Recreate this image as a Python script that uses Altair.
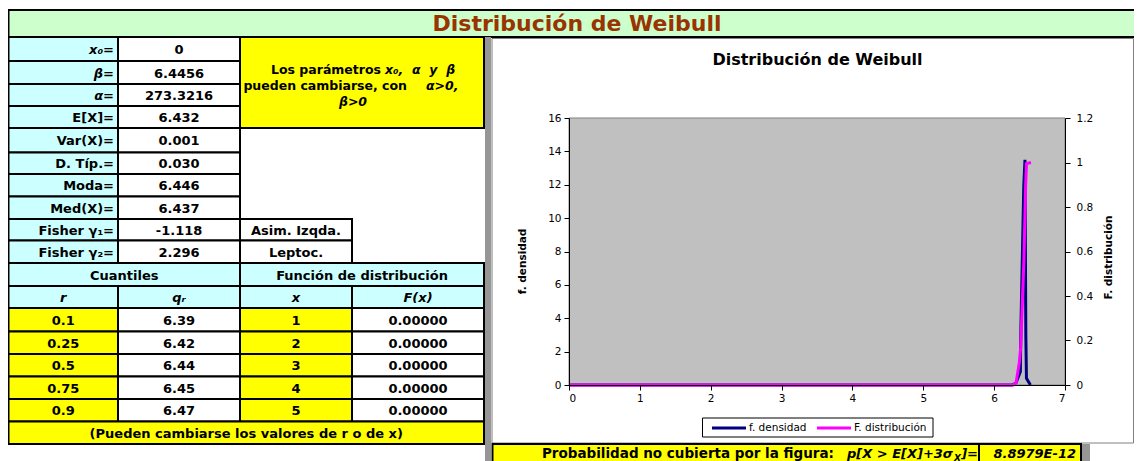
import altair as alt
import pandas as pd

# ---------------- values ----------------
param_labels = ["x₀=", "β=", "α=", "E[X]=", "Var(X)=", "D. Típ.=", "Moda=",
                "Med(X)=", "Fisher γ₁=", "Fisher γ₂="]
param_values = ["0", "6.4456", "273.3216", "6.432", "0.001", "0.030", "6.446",
                "6.437", "-1.118", "2.296"]
shape_notes = ["Asim. Izqda.", "Leptoc."]
quant_header = ["r", "qᵣ", "x", "F(x)"]
quant_r = ["0.1", "0.25", "0.5", "0.75", "0.9"]
quant_q = ["6.39", "6.42", "6.44", "6.45", "6.47"]
dist_x = ["1", "2", "3", "4", "5"]
dist_F = ["0.00000", "0.00000", "0.00000", "0.00000", "0.00000"]
prob_value = "8.8979E-12"

dens_x = [0, 1, 2, 3, 4, 5, 6, 6.25, 6.308, 6.37, 6.378, 6.418, 6.435, 6.447, 6.456, 6.512]
dens_y = [0, 0, 0, 0, 0, 0, 0, 0, 0.12, 0.8, 3.5, 11.9, 13.5, 3.0, 0.4, 0]
cdf_x = [0, 1, 2, 3, 4, 5, 6, 6.27, 6.31, 6.355, 6.375, 6.42, 6.445, 6.457, 6.52]
cdf_y = [0, 0, 0, 0, 0, 0, 0, 0, 0.01, 0.10, 0.17, 0.56, 0.9, 0.995, 1.0]

series_names = ["f. densidad", "F. distribución"]
series_colors = ["#000080", "#FF00FF"]
x_ticks = [0, 1, 2, 3, 4, 5, 6, 7]
dens_ticks = [0, 2, 4, 6, 8, 10, 12, 14, 16]
cdf_ticks = [0, 0.2, 0.4, 0.6, 0.8, 1, 1.2]

NB = "\u00a0"

# ---------------- layout ----------------
W, H = 1126, 453
COL_EDGES = [0.5, 110, 232, 344, 476]
ROW_EDGES = [29, 53, 76, 98, 120, 144.5, 166, 188.5, 211, 232.5, 255, 278, 300,
             323.5, 346, 368.5, 391, 413.5, 436]
PLOT_X = [561, 1057]
PLOT_Y = [377, 110]
CYAN, YELLOW, WHITE, GREEN = "#CCFFFF", "#FFFF00", "#FFFFFF", "#CCFFCC"
FONT = "DejaVu Sans"
TS = 13


def col_mid(c0, c1):
    px = (COL_EDGES[c0] + COL_EDGES[c1]) / 2
    for i in range(len(COL_EDGES) - 1):
        if COL_EDGES[i] <= px <= COL_EDGES[i + 1]:
            return i + (px - COL_EDGES[i]) / (COL_EDGES[i + 1] - COL_EDGES[i])
    return c0


xs = alt.Scale(domain=list(range(len(COL_EDGES))), range=COL_EDGES, nice=False, zero=False)
ys = alt.Scale(domain=list(range(len(ROW_EDGES))), range=ROW_EDGES, nice=False, zero=False)

# table cells
cells = []
for r in range(10):
    cells += [(0, 1, r, r + 1, CYAN), (1, 2, r, r + 1, WHITE)]
cells.append((2, 4, 0, 4, YELLOW))
cells += [(2, 3, 8, 9, WHITE), (2, 3, 9, 10, WHITE)]
cells += [(0, 2, 10, 11, CYAN), (2, 4, 10, 11, CYAN)]
for c in range(4):
    cells.append((c, c + 1, 11, 12, CYAN))
for r in range(12, 17):
    cells += [(0, 1, r, r + 1, YELLOW), (1, 2, r, r + 1, WHITE),
              (2, 3, r, r + 1, YELLOW), (3, 4, r, r + 1, WHITE)]
cells.append((0, 4, 17, 18, YELLOW))
cells_df = pd.DataFrame(cells, columns=["c0", "c1", "r0", "r1", "fill"])

rects = alt.Chart(cells_df).mark_rect(stroke="black", strokeWidth=2).encode(
    x=alt.X("c0:Q", scale=xs, axis=None), x2="c1:Q",
    y=alt.Y("r0:Q", scale=ys, axis=None), y2="r1:Q",
    fill=alt.Fill("fill:N", scale=None))

lab_norm, lab_ital, cen_norm, cen_ital = [], [], [], []
for i, (lab, val) in enumerate(zip(param_labels, param_values)):
    (lab_ital if i < 3 else lab_norm).append((1, i + 0.5, lab))
    cen_norm.append((1.5, i + 0.5, val))
for i, note in enumerate(shape_notes):
    cen_norm.append((2.5, 8.5 + i, note))
cen_norm.append((col_mid(0, 2), 10.5, "Cuantiles"))
cen_norm.append((col_mid(2, 4), 10.5, "Función de distribución"))
for c, h in enumerate(quant_header):
    cen_ital.append((c + 0.5, 11.5, h))
for i in range(5):
    cen_norm += [(0.5, 12.5 + i, quant_r[i]), (1.5, 12.5 + i, quant_q[i]),
                 (2.5, 12.5 + i, dist_x[i]), (3.5, 12.5 + i, dist_F[i])]
cen_norm.append((col_mid(0, 4), 17.5, "(Pueden cambiarse los valores de r o de x)"))


def tbl_text(rows, align, italic, dx=0):
    df = pd.DataFrame(rows, columns=["x", "y", "text"])
    return alt.Chart(df).mark_text(
        font=FONT, fontSize=TS, fontWeight="bold",
        fontStyle="italic" if italic else "normal",
        align=align, baseline="middle", dx=dx, dy=1, color="black").encode(
        x=alt.X("x:Q", scale=xs, axis=None),
        y=alt.Y("y:Q", scale=ys, axis=None), text="text:N")


table = alt.layer(rects,
                  tbl_text(lab_norm, "right", False, -4),
                  tbl_text(lab_ital, "right", True, -4),
                  tbl_text(cen_norm, "center", False),
                  tbl_text(cen_ital, "center", True))


# ---------------- decorations ----------------
def box(x, x2, y, y2, fill, stroke=None, sw=0):
    kw = dict(fill=fill)
    if stroke:
        kw.update(stroke=stroke, strokeWidth=sw)
    return alt.Chart(pd.DataFrame({"k": [0]})).mark_rect(**kw).encode(
        x=alt.value(x), x2=alt.value(x2), y=alt.value(y), y2=alt.value(y2))


def label(text, x, y, size, bold=True, italic=False, align="center", color="black", font=FONT):
    return alt.Chart(pd.DataFrame({"t": [text]})).mark_text(
        font=font, fontSize=size, fontWeight="bold" if bold else "normal",
        fontStyle="italic" if italic else "normal", align=align,
        baseline="middle", color=color).encode(
        x=alt.value(x), y=alt.value(y), text="t:N")


title_bar = box(0.5, W + 5, 2, 29, GREEN, "black", 2)
stripe = box(477, 483, 29, H + 2, "#969696")
frame = box(484, 1125.5, 30.5, 435, "white", "#808080", 1)
prob_cell = box(484.5, 971, 436, H + 6, YELLOW, "black", 2)
prob_val_cell = box(971, 1073, 436, H + 6, YELLOW, "black", 2)
stripe2 = box(1074, 1082, 436, H + 2, "#969696")

texts = [
    label("Distribución de Weibull", 569, 16, 22, color="#993300"),
    label("Distribución de Weibull", 809.5, 52, 16),
    label("Los parámetros", 373, 62, 12.5, align="right"),
    label(f"x₀,{NB}{NB}α{NB}{NB}y{NB}{NB}β", 377, 62, 12.5, italic=True, align="left"),
    label("pueden cambiarse, con", 399, 78, 12.5, align="right"),
    label("α>0,", 418, 78, 12.5, italic=True, align="left"),
    label("β>0", 345, 94, 12.5, italic=True),
    label("Probabilidad no cubierta por la figura:", 826, 446, 13.5, align="right"),
    label("p[X > E[X]+3σ", 945, 446, 13, italic=True, align="right"),
    label("X", 946, 449.5, 9, italic=True, align="left"),
    label("]=", 970, 446, 13, italic=True, align="right"),
    label(prob_value, 1068, 446, 13, italic=True, align="right"),
]

# ---------------- chart ----------------
px_x = alt.Scale(domain=[x_ticks[0], x_ticks[-1]], range=PLOT_X, nice=False, zero=False)
px_yd = alt.Scale(domain=[dens_ticks[0], dens_ticks[-1]], range=PLOT_Y, nice=False, zero=False)
px_yF = alt.Scale(domain=[cdf_ticks[0], cdf_ticks[-1]], range=PLOT_Y, nice=False, zero=False)

axis_common = dict(grid=False, domainColor="black", tickColor="black", labelColor="black",
                   labelFont=FONT, labelFontSize=10.5, titleFont=FONT, titleFontSize=10.5,
                   titleFontWeight="bold", titleColor="black", tickSize=5, domainWidth=1,
                   zindex=1)
x_axis = alt.Axis(values=x_ticks, orient="bottom", offset=-(H - PLOT_Y[0]), title=None,
                  labelPadding=3, format="~g", **axis_common)
yd_axis = alt.Axis(values=dens_ticks, orient="left", offset=-PLOT_X[0], title="f. densidad",
                   labelPadding=3, titleX=-47, titleY=253, titleAngle=270, format="~g",
                   titleBaseline="middle", **axis_common)
yF_axis = alt.Axis(values=cdf_ticks, orient="right", offset=-(W - PLOT_X[1]),
                   title="F. distribución", labelPadding=6, titleX=43, titleY=249,
                   titleAngle=270, titleBaseline="middle", format="~g", **axis_common)

color_scale = alt.Scale(domain=series_names, range=series_colors)

bg_df = pd.DataFrame({"x0": [x_ticks[0]], "x1": [x_ticks[-1]],
                      "y0": [dens_ticks[0]], "y1": [dens_ticks[-1]]})
plot_bg = alt.Chart(bg_df).mark_rect(fill="#C0C0C0", stroke="#808080", strokeWidth=1).encode(
    x=alt.X("x0:Q", scale=px_x, axis=x_axis), x2="x1:Q",
    y=alt.Y("y0:Q", scale=px_yd, axis=yd_axis), y2="y1:Q")

dens_df = pd.DataFrame({"x": dens_x, "y": dens_y, "serie": series_names[0]})
cdf_df = pd.DataFrame({"x": cdf_x, "y": cdf_y, "serie": series_names[1]})

dens_line = alt.Chart(dens_df).mark_line(strokeWidth=3).encode(
    x=alt.X("x:Q", scale=px_x, axis=x_axis),
    y=alt.Y("y:Q", scale=px_yd, axis=yd_axis),
    color=alt.Color("serie:N", scale=color_scale, legend=None))
cdf_line = alt.Chart(cdf_df).mark_line(strokeWidth=3).encode(
    x=alt.X("x:Q", scale=px_x, axis=None),
    y=alt.Y("y:Q", scale=px_yF, axis=yF_axis),
    color=alt.Color("serie:N", scale=color_scale, legend=None))

plot = alt.layer(plot_bg, dens_line)

# legend drawn from the series lists
LEG_BOX = (694.5, 925, 410, 429)
leg_sym_x = [704, 809]
leg_sym_len = 34
leg_df = pd.DataFrame({"serie": series_names, "color": series_colors,
                       "sx": leg_sym_x, "sx2": [v + leg_sym_len for v in leg_sym_x],
                       "tx": [v + leg_sym_len + 3 for v in leg_sym_x]})
leg_box = box(LEG_BOX[0], LEG_BOX[1], LEG_BOX[2], LEG_BOX[3], "white", "black", 1)
leg_lines = alt.Chart(leg_df).mark_rule(strokeWidth=3).encode(
    x=alt.X("sx:Q", scale=None), x2="sx2:Q", y=alt.value(420),
    color=alt.Color("color:N", scale=None))
leg_text = alt.Chart(leg_df).mark_text(font=FONT, fontSize=10.5, align="left",
                                       baseline="middle", color="black").encode(
    x=alt.X("tx:Q", scale=None), y=alt.value(420), text="serie:N")

chart = alt.layer(
    title_bar, stripe, frame, prob_cell, prob_val_cell, stripe2,
    table, plot, cdf_line, leg_box, leg_lines, leg_text, *texts
).resolve_scale(x="independent", y="independent").properties(
    width=W, height=H, autosize=alt.AutoSizeParams(type="none"), padding=0,
    background="white"
).configure_view(strokeWidth=0)

chart.save("out.html", embed_options={"renderer": "svg", "actions": False})
